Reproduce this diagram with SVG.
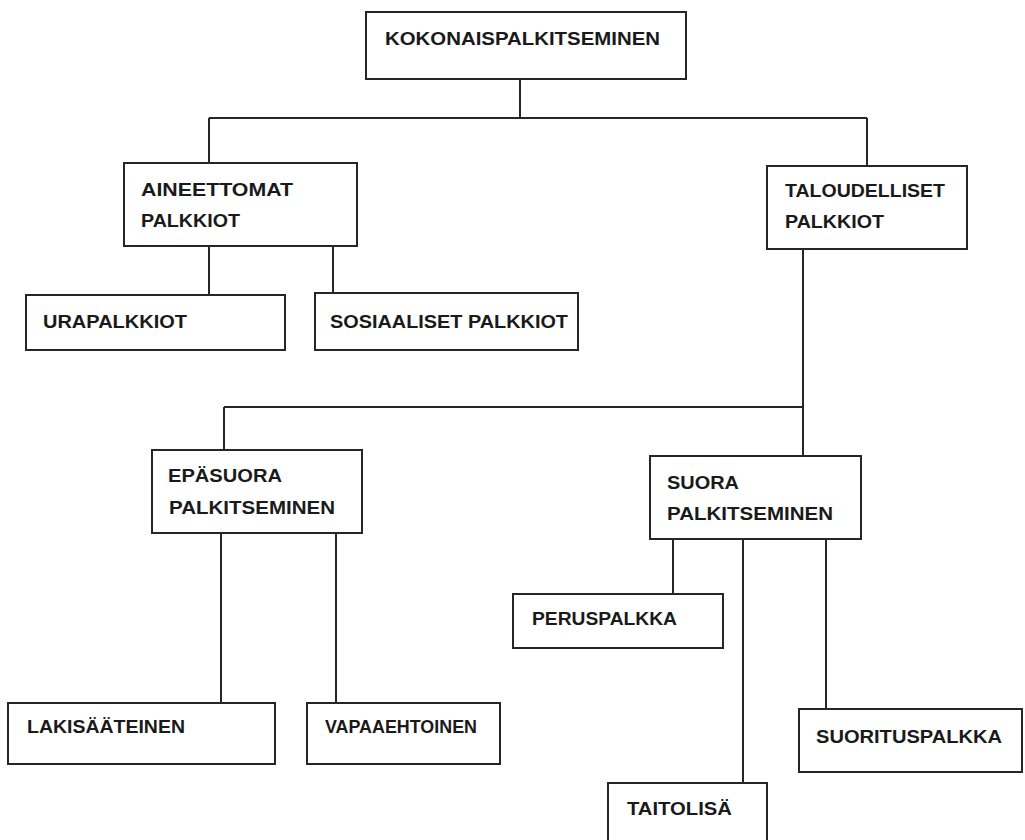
<svg xmlns="http://www.w3.org/2000/svg" width="1025" height="840" viewBox="0 0 1025 840">
<style>
.box{fill:#fff;stroke:#262626;stroke-width:2}
.t{font-family:"Liberation Sans",Arial,sans-serif;font-weight:bold;font-size:19px;fill:#1a1a1a}
.c{fill:none;stroke:#262626;stroke-width:2}
</style>
<rect width="1025" height="840" fill="#fff"/>
<g id="connectors">
<path class="c" d="M520 79V118M209 118H867M209 118V163M867 118V166"/>
<path class="c" d="M209 246V295M333 246V293"/>
<path class="c" d="M803 249V407M224 407H803M224 407V450M803 407V456"/>
<path class="c" d="M221 533V703M336 533V703"/>
<path class="c" d="M673 539V594M743 539V783M826 539V709"/>
</g>
<g id="n-kokonais"><rect class="box" x="366" y="12" width="320" height="67"/><text class="t" x="385" y="45" textLength="275" lengthAdjust="spacingAndGlyphs">KOKONAISPALKITSEMINEN</text></g>
<g id="n-aineettomat"><rect class="box" x="124" y="163" width="233" height="83"/><text class="t" x="141" y="196" textLength="152" lengthAdjust="spacingAndGlyphs">AINEETTOMAT</text><text class="t" x="141" y="227" textLength="99" lengthAdjust="spacingAndGlyphs">PALKKIOT</text></g>
<g id="n-taloudelliset"><rect class="box" x="767" y="166" width="200" height="83"/><text class="t" x="785" y="197" textLength="160" lengthAdjust="spacingAndGlyphs">TALOUDELLISET</text><text class="t" x="785" y="228" textLength="99" lengthAdjust="spacingAndGlyphs">PALKKIOT</text></g>
<g id="n-urapalkkiot"><rect class="box" x="26" y="295" width="259" height="55"/><text class="t" x="43" y="328" textLength="144" lengthAdjust="spacingAndGlyphs">URAPALKKIOT</text></g>
<g id="n-sosiaaliset"><rect class="box" x="315" y="293" width="263" height="57"/><text class="t" x="330" y="328" textLength="238" lengthAdjust="spacingAndGlyphs">SOSIAALISET PALKKIOT</text></g>
<g id="n-epasuora"><rect class="box" x="152" y="450" width="210" height="83"/><text class="t" x="168" y="482" textLength="114" lengthAdjust="spacingAndGlyphs">EPÄSUORA</text><text class="t" x="169" y="514" textLength="166" lengthAdjust="spacingAndGlyphs">PALKITSEMINEN</text></g>
<g id="n-suora"><rect class="box" x="650" y="456" width="211" height="83"/><text class="t" x="667" y="489" textLength="72" lengthAdjust="spacingAndGlyphs">SUORA</text><text class="t" x="667" y="520" textLength="166" lengthAdjust="spacingAndGlyphs">PALKITSEMINEN</text></g>
<g id="n-peruspalkka"><rect class="box" x="513" y="594" width="210" height="54"/><text class="t" x="532" y="625" textLength="145" lengthAdjust="spacingAndGlyphs">PERUSPALKKA</text></g>
<g id="n-lakisaateinen"><rect class="box" x="8" y="703" width="267" height="61"/><text class="t" x="27" y="733" textLength="158" lengthAdjust="spacingAndGlyphs">LAKISÄÄTEINEN</text></g>
<g id="n-vapaaehtoinen"><rect class="box" x="307" y="703" width="193" height="61"/><text class="t" x="325" y="733" textLength="152" lengthAdjust="spacingAndGlyphs">VAPAAEHTOINEN</text></g>
<g id="n-suorituspalkka"><rect class="box" x="799" y="709" width="223" height="63"/><text class="t" x="816" y="743" textLength="186" lengthAdjust="spacingAndGlyphs">SUORITUSPALKKA</text></g>
<g id="n-taitolisa"><rect class="box" x="608" y="783" width="159" height="60"/><text class="t" x="627" y="815" textLength="105" lengthAdjust="spacingAndGlyphs">TAITOLISÄ</text></g>
</svg>
